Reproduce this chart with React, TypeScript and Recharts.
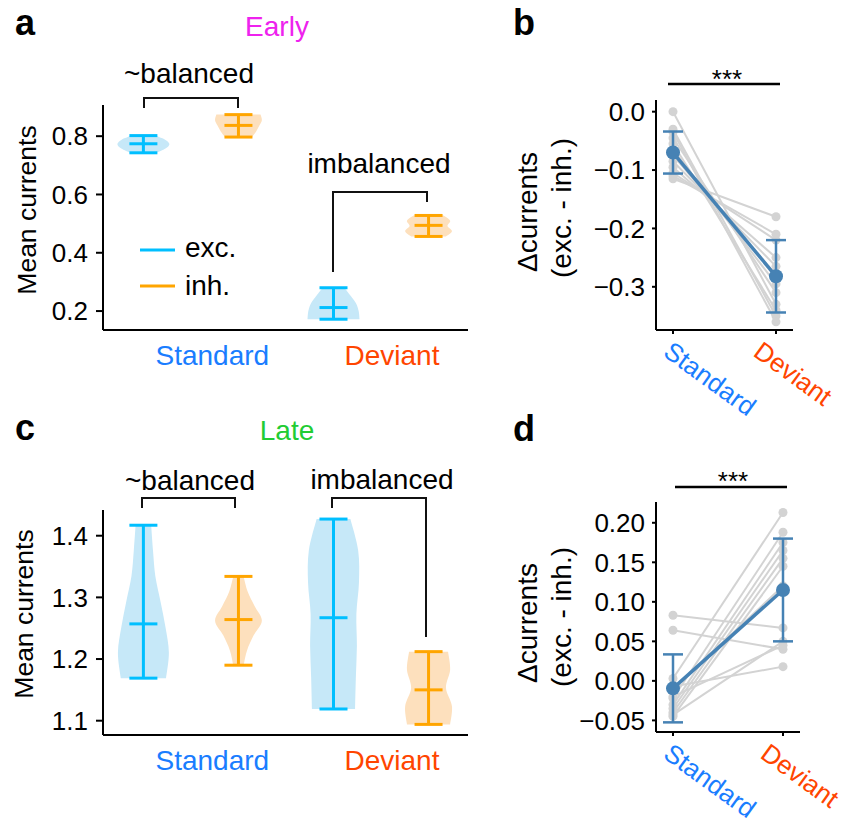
import React from 'react'
import { ComposedChart, Bar, XAxis, YAxis, LineChart, Line, ErrorBar } from 'recharts'

const FONT = '"Liberation Sans", Arial, Helvetica, sans-serif'
const EXC = '#00bfff'
const INH = '#ffa500'
const EXC_FILL = '#c6e8f8'
const INH_FILL = '#fde0bd'
const STD_COLOR = '#1a7dff'
const DEV_COLOR = '#ff4500'
const MEAN_COLOR = '#4682b4'
const GRAY = '#d3d3d3'

// violins, in order: exc/Standard, inh/Standard, exc/Deviant, inh/Deviant
const violinPos = [0, 1, 2, 3]
const violinKind = ['exc', 'inh', 'exc', 'inh']
const groupLabels = ['Standard', 'Deviant']

const earlyMin = [0.743, 0.797, 0.172, 0.456]
const earlyMedian = [0.774, 0.837, 0.212, 0.494]
const earlyMax = [0.802, 0.874, 0.28, 0.528]
// relative violin widths, evenly spaced from min (first) to max (last)
const earlyDensity = [
  [0.5, 0.85, 1.0, 0.85, 0.45],
  [0.52, 0.68, 0.8, 0.9, 0.85],
  [1.0, 0.97, 0.87, 0.65, 0.42],
  [0.67, 0.9, 0.73, 0.83, 0.58],
]
const earlyTicks = [0.2, 0.4, 0.6, 0.8]

const lateMin = [1.169, 1.19, 1.119, 1.094]
const lateMedian = [1.257, 1.264, 1.267, 1.15]
const lateMax = [1.417, 1.334, 1.427, 1.212]
const lateDensity = [
  [0.87, 0.98, 0.85, 0.66, 0.46, 0.37, 0.3],
  [0.2, 0.33, 0.58, 0.9, 0.62, 0.35, 0.2],
  [0.83, 0.86, 0.9, 0.88, 0.98, 0.95, 0.65],
  [0.83, 0.9, 0.67, 0.83, 0.75],
]
const lateTicks = [1.1, 1.2, 1.3, 1.4]

// paired differences (exc. - inh.) per network
const conditions = ['Standard', 'Deviant']
const earlyStd = [0.0, -0.03, -0.035, -0.045, -0.055, -0.065, -0.075, -0.085, -0.095, -0.105, -0.11, -0.115]
const earlyDev = [-0.33, -0.35, -0.36, -0.31, -0.34, -0.295, -0.28, -0.265, -0.25, -0.22, -0.21, -0.18]
const earlyMean = [-0.07, -0.282]
const earlyErr = [0.036, 0.062]
const earlyDiffTicks = [0, -0.1, -0.2, -0.3]

const lateStd = [0.083, 0.064, -0.007, -0.043, 0.003, -0.022, -0.03, -0.035, -0.04, -0.045, -0.01, -0.02]
const lateDev = [0.067, 0.04, 0.018, 0.05, 0.213, 0.188, 0.175, 0.165, 0.155, 0.145, 0.12, 0.045]
const lateMean = [-0.0095, 0.115]
const lateErr = [0.043, 0.065]
const lateDiffTicks = [0.2, 0.15, 0.1, 0.05, 0, -0.05]

function violinRows(lo: number[], mid: number[], hi: number[], dens: number[][]) {
  return violinPos.map((p, i) => ({
    pos: p, range: [lo[i], hi[i]], lo: lo[i], mid: mid[i], hi: hi[i], density: dens[i], kind: violinKind[i],
  }))
}

function pairRows(std: number[], dev: number[], mean: number[], err: number[]) {
  return conditions.map((c, k) => {
    const row: any = { cond: c, mean: mean[k], err: err[k] }
    const vals = k === 0 ? std : dev
    vals.forEach((v, i) => { row[`s${i}`] = v })
    return row
  })
}

function curve(pts: number[][]) {
  let d = ''
  for (let i = 0; i < pts.length - 1; i++) {
    const p0 = pts[Math.max(i - 1, 0)], p1 = pts[i], p2 = pts[i + 1], p3 = pts[Math.min(i + 2, pts.length - 1)]
    const c1x = p1[0] + (p2[0] - p0[0]) / 6, c1y = p1[1] + (p2[1] - p0[1]) / 6
    const c2x = p2[0] - (p3[0] - p1[0]) / 6, c2y = p2[1] - (p3[1] - p1[1]) / 6
    d += ` C${c1x},${c1y} ${c2x},${c2y} ${p2[0]},${p2[1]}`
  }
  return d
}

function Violin(props: any) {
  const { x, y, width, height, payload } = props
  if (x == null || !payload) return null
  const { lo, mid, hi, density, kind } = payload
  const cx = x + width / 2
  const py = (v: number) => y + (height * (hi - v)) / (hi - lo)
  const n = density.length
  const right: number[][] = []
  for (let j = n - 1; j >= 0; j--) {
    right.push([cx + (density[j] * width) / 2, py(lo + ((hi - lo) * j) / (n - 1))])
  }
  const left = right.map(p => [2 * cx - p[0], p[1]]).reverse()
  const path = `M${right[0][0]},${right[0][1]}${curve(right)} L${left[0][0]},${left[0][1]}${curve(left)} Z`
  const stroke = kind === 'exc' ? EXC : INH
  const cap = 14
  return (
    <g>
      <path d={path} fill={kind === 'exc' ? EXC_FILL : INH_FILL} stroke="none" />
      <line x1={cx} x2={cx} y1={py(hi)} y2={py(lo)} stroke={stroke} strokeWidth={3} />
      {[hi, mid, lo].map((v, i) => (
        <line key={i} x1={cx - cap} x2={cx + cap} y1={py(v)} y2={py(v)} stroke={stroke} strokeWidth={3} />
      ))}
    </g>
  )
}

const groupTickPos = [0.73, 2.62]

function GroupTick({ x, y, payload }: any) {
  const label = groupLabels[groupTickPos.indexOf(payload.value)]
  return (
    <text x={x} y={y + 35} textAnchor="middle" fontSize={28} fontFamily={FONT}
      fill={label === 'Standard' ? STD_COLOR : DEV_COLOR}>{label}</text>
  )
}

function SlantTick({ x, y, payload }: any) {
  const label = payload.value
  const bx = x + (label === 'Standard' ? -11 : -24)
  const by = y + 19
  return (
    <text x={bx} y={by} transform={`rotate(36 ${bx} ${by})`} fontSize={26} fontFamily={FONT}
      fill={label === 'Standard' ? STD_COLOR : DEV_COLOR}>{label}</text>
  )
}

const axisStyle = { stroke: '#000', strokeWidth: 2 }
const tickText = { fontSize: 26, fill: '#000', fontFamily: FONT }

function ViolinPanel({ rows, domain, ticks, top }: any) {
  return (
    <ComposedChart width={480} height={380} data={rows} margin={{ top, right: 12, bottom: 0, left: 43 }}>
      <XAxis dataKey="pos" type="number" domain={[-0.42, 3.42]} ticks={groupTickPos} tick={<GroupTick />}
        axisLine={axisStyle} tickLine={false} tickSize={0} tickMargin={0} height={380 - top - 225} allowDataOverflow />
      <YAxis type="number" domain={domain} ticks={ticks} allowDataOverflow width={60}
        tickFormatter={(v: number) => v.toFixed(1)} tick={tickText}
        axisLine={axisStyle} tickLine={axisStyle} tickSize={7} tickMargin={8} />
      <Bar dataKey="range" barSize={52} shape={Violin} isAnimationActive={false} />
    </ComposedChart>
  )
}

// two stacked charts with the same geometry, so the mean and its error bar sit above the grey dots
function PairPanel({ rows, domain, ticks, digits, top, height, right, n }: any) {
  const fmt = (v: number) => (v < 0 ? '\u2212' : '') + Math.abs(v).toFixed(digits)
  const W = 345
  const margin = { top, right, bottom: 0, left: 66 }
  const xh = height - top - 230
  return (
    <div style={{ position: 'relative', width: W, height }}>
      <div style={{ position: 'absolute', left: 0, top: 0 }}>
        <LineChart width={W} height={height} data={rows} margin={margin}>
          <XAxis dataKey="cond" type="category" padding={{ left: 17, right: 17 }} height={xh}
            tick={<SlantTick />} axisLine={axisStyle} tickLine={axisStyle} tickSize={4} />
          <YAxis type="number" domain={domain} ticks={ticks} allowDataOverflow width={90}
            tickFormatter={fmt} tick={tickText} axisLine={axisStyle} tickLine={axisStyle} tickSize={4} tickMargin={7} />
          {Array.from({ length: n }, (_, i) => (
            <Line key={i} dataKey={`s${i}`} stroke={GRAY} strokeWidth={2} isAnimationActive={false}
              dot={{ r: 4.5, fill: GRAY, stroke: 'none' }} activeDot={false} />
          ))}
        </LineChart>
      </div>
      <div style={{ position: 'absolute', left: 0, top: 0 }}>
        <LineChart width={W} height={height} data={rows} margin={margin}>
          <XAxis dataKey="cond" type="category" padding={{ left: 17, right: 17 }} height={xh}
            tick={false} axisLine={false} tickLine={false} />
          <YAxis type="number" domain={domain} ticks={ticks} allowDataOverflow width={90}
            tick={false} axisLine={false} tickLine={false} />
          <Line dataKey="mean" stroke={MEAN_COLOR} strokeWidth={3.5} isAnimationActive={false}
            dot={{ r: 7, fill: MEAN_COLOR, stroke: 'none' }} activeDot={false}>
            <ErrorBar dataKey="err" width={10} stroke={MEAN_COLOR} strokeWidth={2.5} direction="y" isAnimationActive={false} />
          </Line>
        </LineChart>
      </div>
    </div>
  )
}

function Overlay() {
  const t = { fontFamily: FONT, fontSize: 28, fill: '#000' }
  const br = { fill: 'none', stroke: '#111', strokeWidth: 2 }
  return (
    <svg width={845} height={838} style={{ position: 'absolute', left: 0, top: 0, pointerEvents: 'none' }}>
      <g fontFamily={FONT} fontWeight="bold" fontSize={36}>
        <text x={15} y={35}>a</text>
        <text x={513} y={35}>b</text>
        <text x={15} y={440}>c</text>
        <text x={513} y={441}>d</text>
      </g>
      <text {...t} x={277} y={36} textAnchor="middle" fill="#ee22ee">Early</text>
      <text {...t} x={287} y={440} textAnchor="middle" fill="#22cc33">Late</text>

      <text {...t} x={189} y={83} textAnchor="middle">~balanced</text>
      <polyline points="144,108 144,98 238,98 238,108" {...br} />
      <text {...t} x={379} y={173} textAnchor="middle">imbalanced</text>
      <polyline points="333,272 333,192 427,192 427,202" {...br} />

      <text {...t} x={190} y={490} textAnchor="middle">~balanced</text>
      <polyline points="142,508 142,498 235,498 235,508" {...br} />
      <text {...t} x={382} y={489} textAnchor="middle">imbalanced</text>
      <polyline points="332,508 332,498 426,498 426,637" {...br} />

      <line x1={140} x2={175} y1={250} y2={250} stroke={EXC} strokeWidth={3} />
      <line x1={140} x2={175} y1={286} y2={286} stroke={INH} strokeWidth={3} />
      <text {...t} x={185} y={257}>exc.</text>
      <text {...t} x={185} y={295}>inh.</text>

      <text {...t} fontSize={26.5} x={36} y={210} textAnchor="middle" transform="rotate(-90 36 210)">Mean currents</text>
      <text {...t} fontSize={26.5} x={33} y={614} textAnchor="middle" transform="rotate(-90 33 614)">Mean currents</text>

      <text {...t} x={537} y={212} textAnchor="middle" transform="rotate(-90 537 212)">Δcurrents</text>
      <text {...t} x={571} y={208} textAnchor="middle" transform="rotate(-90 571 208)">(exc. - inh.)</text>
      <text {...t} x={537} y={623} textAnchor="middle" transform="rotate(-90 537 623)">Δcurrents</text>
      <text {...t} x={571} y={617} textAnchor="middle" transform="rotate(-90 571 617)">(exc. - inh.)</text>

      <text {...t} fontSize={26} x={727} y={88} textAnchor="middle">***</text>
      <line x1={668} x2={780} y1={84} y2={84} stroke="#000" strokeWidth={2.5} />
      <text {...t} fontSize={26} x={733} y={490} textAnchor="middle">***</text>
      <line x1={675} x2={787} y1={487} y2={487} stroke="#000" strokeWidth={2.5} />
    </svg>
  )
}

export default function App() {
  const pos = (left: number, top: number) => ({ position: 'absolute' as const, left, top })
  return (
    <div style={{ position: 'absolute', left: 0, top: 0, width: 845, height: 838, background: '#fff', overflow: 'hidden', fontFamily: FONT }}>
      <div style={pos(0, 0)}>
        <ViolinPanel rows={violinRows(earlyMin, earlyMedian, earlyMax, earlyDensity)} domain={[0.135, 0.907]} ticks={earlyTicks} top={105} />
      </div>
      <div style={pos(0, 410)}>
        <ViolinPanel rows={violinRows(lateMin, lateMedian, lateMax, lateDensity)} domain={[1.0768, 1.4417]} ticks={lateTicks} top={100} />
      </div>
      <div style={pos(500, 0)}>
        <PairPanel rows={pairRows(earlyStd, earlyDev, earlyMean, earlyErr)} domain={[-0.374, 0.02]} ticks={earlyDiffTicks}
          digits={1} top={100} height={440} right={52} n={earlyStd.length} />
      </div>
      <div style={pos(500, 410)}>
        <PairPanel rows={pairRows(lateStd, lateDev, lateMean, lateErr)} domain={[-0.0647, 0.2263]} ticks={lateDiffTicks}
          digits={2} top={92} height={428} right={45} n={lateStd.length} />
      </div>
      <Overlay />
    </div>
  )
}
